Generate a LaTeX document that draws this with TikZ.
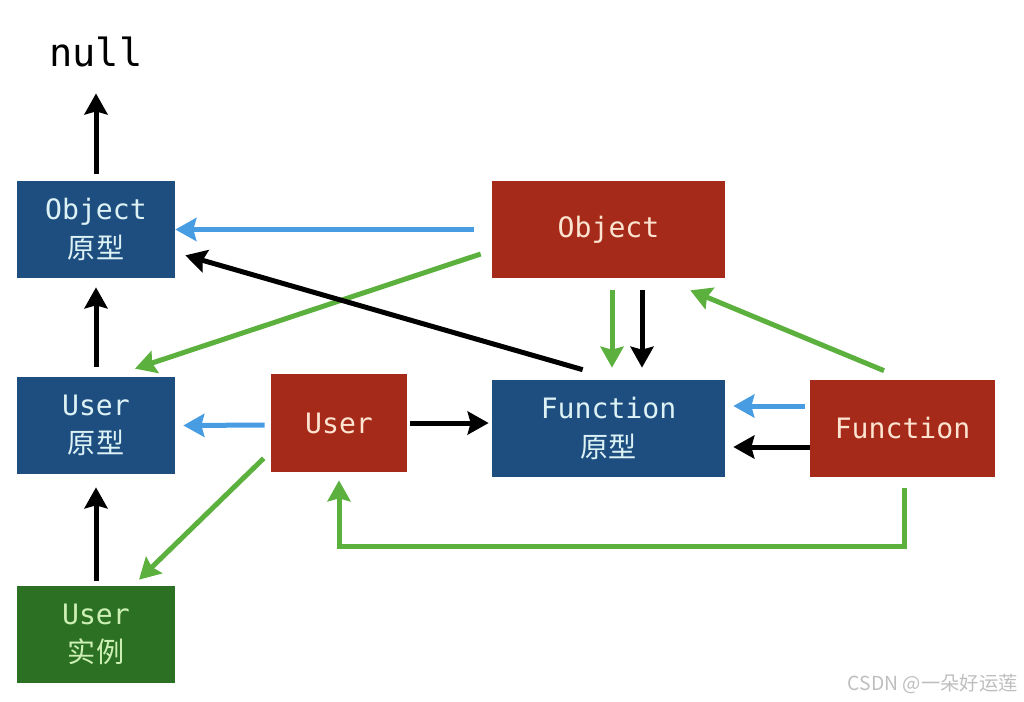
\documentclass[tikz,border=0pt]{standalone}
\usepackage{fontspec}
\setmonofont{DejaVu Sans Mono}
\newfontfamily\cjk{Noto Sans CJK SC}
\usepackage{tikz}
\usetikzlibrary{calc,arrows.meta}
\usepackage{xcolor}
\definecolor{protoblue}{RGB}{30,78,128}
\definecolor{prototext}{RGB}{220,242,245}
\definecolor{ctorred}{RGB}{166,42,26}
\definecolor{ctortext}{RGB}{252,228,208}
\definecolor{instgreen}{RGB}{44,112,36}
\definecolor{insttext}{RGB}{205,240,180}
\definecolor{linkblue}{RGB}{72,156,226}
\definecolor{linkgreen}{RGB}{92,176,62}
\definecolor{wmgray}{RGB}{190,190,190}

\begin{document}
\begin{tikzpicture}[x=0.02cm,y=-0.02cm,
  >={Stealth[length=0.42cm,width=0.46cm,inset=0.06cm]},
  box/.style={minimum height=\bht,inner sep=0,align=center,font=\fontsize{16pt}{22pt}\selectfont},
  proto/.style={box,fill=protoblue,text=prototext},
  ctor/.style={box,fill=ctorred,text=ctortext},
  inst/.style={box,fill=instgreen,text=insttext},
  blk/.style={->,line width=0.1cm,black},
  blu/.style={->,line width=0.1cm,linkblue},
  grn/.style={->,line width=0.1cm,linkgreen}]
% box-height & box-widths
\newcommand{\bht}{1.94cm}
\newcommand{\swd}{3.16cm}
\newcommand{\wwd}{4.66cm}
\newcommand{\fnwd}{3.7cm}
\newcommand{\uswd}{2.72cm}

% Total Layout
\useasboundingbox (0,0) rectangle (1024,701);
\node[font=\ttfamily\fontsize{22pt}{26pt}\selectfont,inner sep=0] (null) at (96,52) {null};
\node[proto,minimum width=\swd] (oproto) at (96,229.5) {{\ttfamily Object}\\{\cjk 原型}};
\node[proto,minimum width=\swd] (uproto) at (96,425.5) {{\ttfamily User}\\{\cjk 原型}};
\node[inst,minimum width=\swd] (uinst) at (96,634.5) {{\ttfamily User}\\{\cjk 实例}};
\node[ctor,minimum width=\uswd,minimum height=1.96cm] (user) at (339,423) {\ttfamily User};
\node[ctor,minimum width=\wwd] (obj) at (608.5,229.5) {\ttfamily Object};
\node[proto,minimum width=\wwd] (fproto) at (608.5,428.5) {{\ttfamily Function}\\{\cjk 原型}};
\node[ctor,minimum width=\fnwd] (func) at (902.5,428.5) {\ttfamily Function};

% Prototype chain
\draw[blk,shorten <=0.14cm,shorten >=0.52cm] (oproto.north) -- (null.south);
\draw[blk,shorten <=0.2cm,shorten >=0.18cm] (uproto.north) -- (oproto.south);
\draw[blk,shorten <=0.1cm,shorten >=0.26cm] (uinst.north) -- (uproto.south);

% Object
\draw[blu,shorten <=0.36cm] (obj.west) -- (oproto.east);
\draw[grn] ($(obj.west)+(-11,24.5)$) -- ($(uproto.north)+(39,-8)$);
\draw[grn] ($(obj.south)+(3.5,12)$) -- ($(fproto.north)+(3.5,-12)$);
\draw[blk] ($(obj.south)+(33.5,12)$) -- ($(fproto.north)+(33.5,-12)$);

% Function
\draw[blk] ($(fproto.north west)+(91,-10)$) -- ($(oproto.south east)+(10,-23)$);
\draw[grn] ($(func.north)+(-18.5,-9)$) -- ($(obj.south east)+(-35,12)$);
\draw[blu] ($(func.west)+(-5,-22.5)$) -- ($(fproto.east)+(8,-22.5)$);
\draw[blk] ($(func.west)+(0,18.5)$) -- ($(fproto.east)+(8,18.5)$);
\draw[grn] ($(func.south)+(1.5,11)$) -- ++(0,58) -| ($(user.south)+(0,8)$);

% User
\draw[blk] ($(user.east)+(3,0)$) -- ($(fproto.west)+(-3,-5.5)$);
\draw[blu] ($(user.west)+(-6,2)$) -- ($(uproto.east)+(8,0)$);
\draw[grn] ($(user.south west)+(-7,-14)$) -- ($(uinst.north)+(43,-6)$);

% Watermark
\node[font=\cjk\fontsize{11pt}{13pt}\selectfont,text=wmgray,anchor=east,inner sep=0] (mark) at (1018,684) {CSDN @一朵好运莲};
\end{tikzpicture}
\end{document}
